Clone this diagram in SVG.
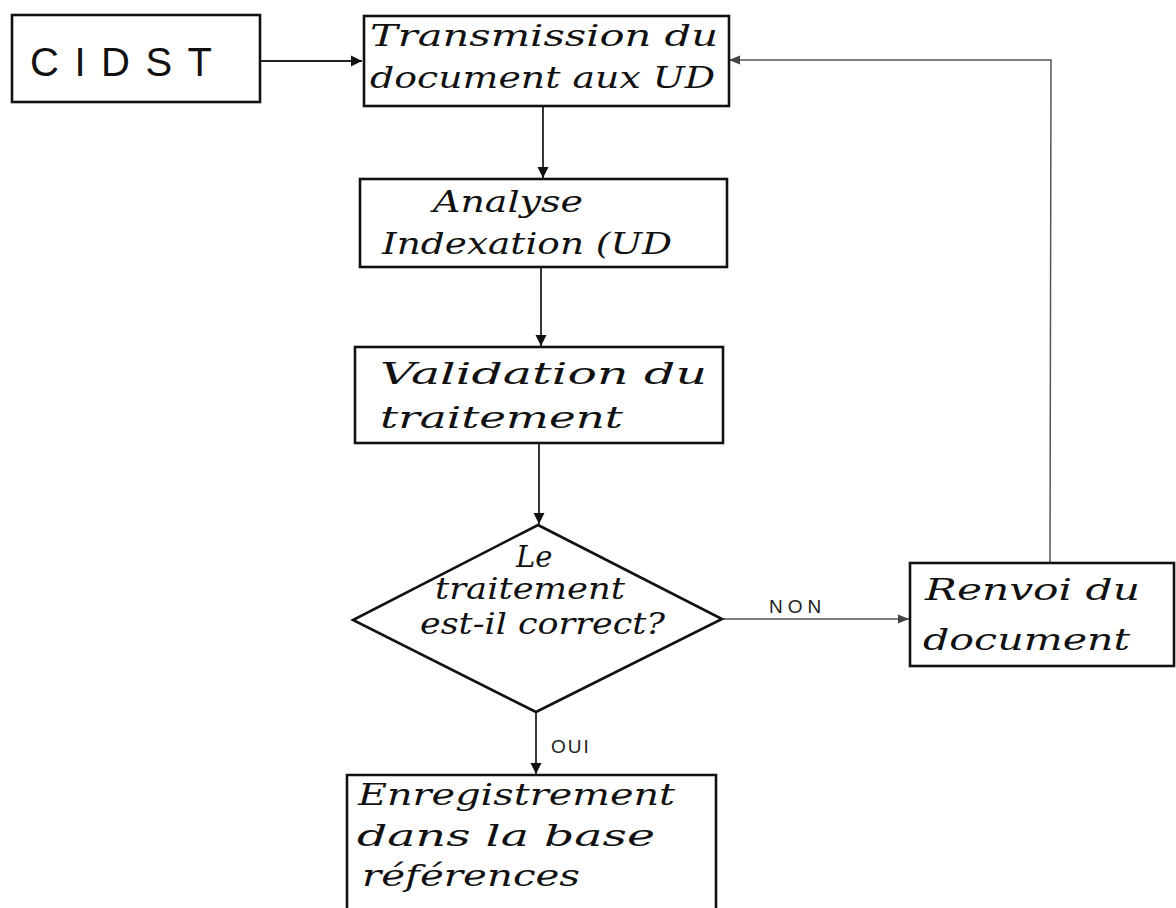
<svg xmlns="http://www.w3.org/2000/svg" width="1176" height="908" viewBox="0 0 1176 908">
<style>
.box{fill:none;stroke:#111;stroke-width:2.6}
.ln{fill:none;stroke:#222;stroke-width:1.8}
.ln2{fill:none;stroke:#555;stroke-width:1.5}
.t{font-family:"DejaVu Serif","Liberation Serif",serif;font-style:italic;font-size:29px;fill:#111}
.c{font-family:"Liberation Sans",sans-serif;font-size:40px;fill:#111}
.lbl{font-family:"Liberation Sans",sans-serif;font-size:19px;fill:#222}
</style>
<defs>
<marker id="ah" viewBox="0 0 10 10" refX="10" refY="5" markerWidth="11" markerHeight="12" markerUnits="userSpaceOnUse" orient="auto">
<path d="M0,0 L10,5 L0,10 z" fill="#111"/>
</marker>
<marker id="ahg" viewBox="0 0 10 10" refX="10" refY="5" markerWidth="16" markerHeight="11" markerUnits="userSpaceOnUse" orient="auto">
<path d="M0,1 L10,5 L0,9 z" fill="#444"/>
</marker>
</defs>
<rect width="1176" height="908" fill="#fff"/>
<g id="connectors">
<line class="ln" x1="260" y1="61" x2="362" y2="61" marker-end="url(#ah)"/>
<line class="ln" x1="543" y1="106" x2="543" y2="178" marker-end="url(#ah)"/>
<line class="ln" x1="541" y1="268" x2="541" y2="346" marker-end="url(#ah)"/>
<line class="ln" x1="539" y1="444" x2="539" y2="524" marker-end="url(#ah)"/>
<line class="ln2" x1="722" y1="619" x2="909" y2="619" marker-end="url(#ahg)"/>
<polyline class="ln2" points="1050,563 1051,60 729,60" marker-end="url(#ahg)"/>
<line class="ln" x1="536" y1="712" x2="536" y2="774" marker-end="url(#ah)"/>
<text class="lbl" x="769" y="613" letter-spacing="5">NON</text>
<text class="lbl" x="551" y="753" letter-spacing="2">OUI</text>
</g>
<g id="cidst">
<rect class="box" x="12" y="15" width="248" height="87"/>
<text class="c" x="30" y="76" textLength="182" lengthAdjust="spacing">CIDST</text>
</g>
<g id="transmission">
<rect class="box" x="364" y="16" width="365" height="90"/>
<text class="t" x="370" y="46" textLength="348" lengthAdjust="spacingAndGlyphs">Transmission du</text>
<text class="t" x="370" y="88" textLength="345" lengthAdjust="spacingAndGlyphs">document aux UD</text>
</g>
<g id="analyse">
<rect class="box" x="360" y="179" width="367" height="88"/>
<text class="t" x="433" y="212" textLength="150" lengthAdjust="spacingAndGlyphs">Analyse</text>
<text class="t" x="382" y="254" textLength="290" lengthAdjust="spacingAndGlyphs">Indexation (UD</text>
</g>
<g id="validation">
<rect class="box" x="355" y="347" width="368" height="96"/>
<text class="t" x="380" y="384" textLength="327" lengthAdjust="spacingAndGlyphs">Validation du</text>
<text class="t" x="380" y="428" textLength="243" lengthAdjust="spacingAndGlyphs">traitement</text>
</g>
<g id="decision">
<polygon class="box" points="538,525 722,619 536,712 353,620"/>
<text class="t" x="516" y="567" font-size="28">Le</text>
<text class="t" x="435" y="599" textLength="190" lengthAdjust="spacingAndGlyphs">traitement</text>
<text class="t" x="420" y="634" textLength="245" lengthAdjust="spacingAndGlyphs">est-il correct?</text>
</g>
<g id="renvoi">
<rect class="box" x="910" y="563" width="264" height="103"/>
<text class="t" x="925" y="600" textLength="215" lengthAdjust="spacingAndGlyphs">Renvoi du</text>
<text class="t" x="923" y="650" textLength="207" lengthAdjust="spacingAndGlyphs">document</text>
</g>
<g id="enregistrement">
<path class="box" d="M347,912 L347,775 L716,775 L716,912"/>
<text class="t" x="358" y="805" textLength="317" lengthAdjust="spacingAndGlyphs">Enregistrement</text>
<text class="t" x="357" y="846" textLength="298" lengthAdjust="spacingAndGlyphs">dans la base</text>
<text class="t" x="362" y="886" textLength="218" lengthAdjust="spacingAndGlyphs">références</text>
</g>
</svg>
